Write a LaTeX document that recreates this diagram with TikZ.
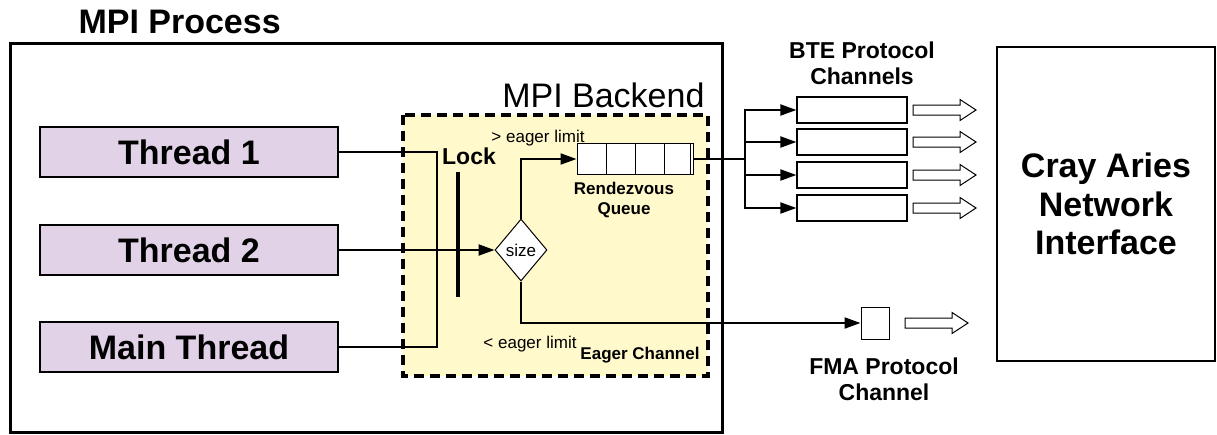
\documentclass[tikz,border=0pt]{standalone}
\usepackage{fontspec}
\setmainfont{Liberation Sans}
\usetikzlibrary{arrows.meta, calc, positioning, shapes.geometric}
\definecolor{threadfill}{HTML}{E1D2E7}
\definecolor{backendfill}{HTML}{FFF9CC}

\tikzset{
  thread/.style={draw, line width=1.5pt, fill=threadfill, minimum width=298pt, minimum height=50pt, font=\fontsize{34}{40}\selectfont\bfseries},
  chan/.style={draw, line width=1.2pt, fill=white, minimum width=110pt, minimum height=26pt},
  big/.style={font=\fontsize{34}{38.5}\selectfont\bfseries, align=center},
  mid/.style={font=\fontsize{23}{26}\selectfont\bfseries, align=center},
  small/.style={font=\fontsize{17}{20}\selectfont, align=center},
  link/.style={line width=2pt, -{Triangle[length=16pt,width=11pt]}},
  hollow arrow/.pic={\draw[line width=1pt, fill=white] (0,-5) -- (47,-5) -- (47,-10.5) -- (63,0) -- (47,10.5) -- (47,5) -- (0,5) -- cycle;}
}

\begin{document}
\begin{tikzpicture}[x=1pt, y=-1pt]
    \useasboundingbox (0,0) rectangle (1217,434);

    % MPI process and backend
    \draw[line width=3pt] (10,43) rectangle (722,432);
    \node[big, anchor=base west] (proc) at (75,33) {MPI Process};
    \draw[line width=4pt, dash pattern=on 10pt off 6pt, fill=backendfill] (403,115) rectangle (708,376);
    \node[font=\fontsize{34}{40}\selectfont, anchor=base east] (backend) at (708,107) {MPI Backend};

    % Threads
    \node[thread] (t1) at (189,152) {Thread 1};
    \node[thread] (t2) at (189,250) {Thread 2};
    \node[thread] (main) at (189,347) {Main Thread};

    % Lock
    \coordinate (merge) at (437,250);
    \draw[line width=2pt] (t1.east) -| (merge) |- (main.east);
    \draw[line width=4pt] (458,172) -- (458,297);
    \node[mid] (lock) at (469,156) {Lock};

    % Size decision
    \node[diamond, draw, fill=white, line width=1pt, minimum width=52pt, minimum height=62pt, inner sep=0pt, small] (size) at (521,250) {size};
    \draw[link] (t2.east) -- (size.west);

    % Rendezvous queue
    \node[draw, line width=1pt, fill=white, minimum width=116pt, minimum height=31pt] (queue) at (635,159) {};
    \foreach \x in {606,635,664,690}
        \draw[line width=1pt] (\x,143) -- (\x,174);
    \draw[link] (size.north) |- (queue.west);
    \node[small] (gt) at (538,138) {> eager limit};
    \node[small, font=\fontsize{17}{20}\selectfont\bfseries] (rq) at (624,200) {Rendezvous\\Queue};

    % Eager channel
    \node[draw, line width=1pt, fill=white, minimum width=28pt, minimum height=32pt] (fma) at (875,323) {};
    \draw[link] (size.south) |- (fma.west);
    \node[small] (lt) at (530,344) {< eager limit};
    \node[small, font=\fontsize{17}{20}\selectfont\bfseries] (eager) at (640,355) {Eager Channel};
    \pic at (905,323) {hollow arrow};
    \node[mid] (fmalabel) at (884,379) {FMA Protocol\\Channel};

    % BTE channels
    \coordinate (split) at (745,159);
    \draw[line width=2pt] (queue.east) -- (split);
    \foreach \y [count=\i] in {110,142,175,208} {
        \node[chan] (bte\i) at (852,\y) {};
        \draw[link] (split) |- (bte\i.west);
        \pic at (913,\y) {hollow arrow};
    }
    \node[mid] (btelabel) at (862,63) {BTE Protocol\\Channels};

    % Network interface
    \node[draw, line width=1.2pt, minimum width=218pt, minimum height=314pt, big] (nic) at (1106,204) {Cray Aries\\Network\\Interface};
\end{tikzpicture}
\end{document}
